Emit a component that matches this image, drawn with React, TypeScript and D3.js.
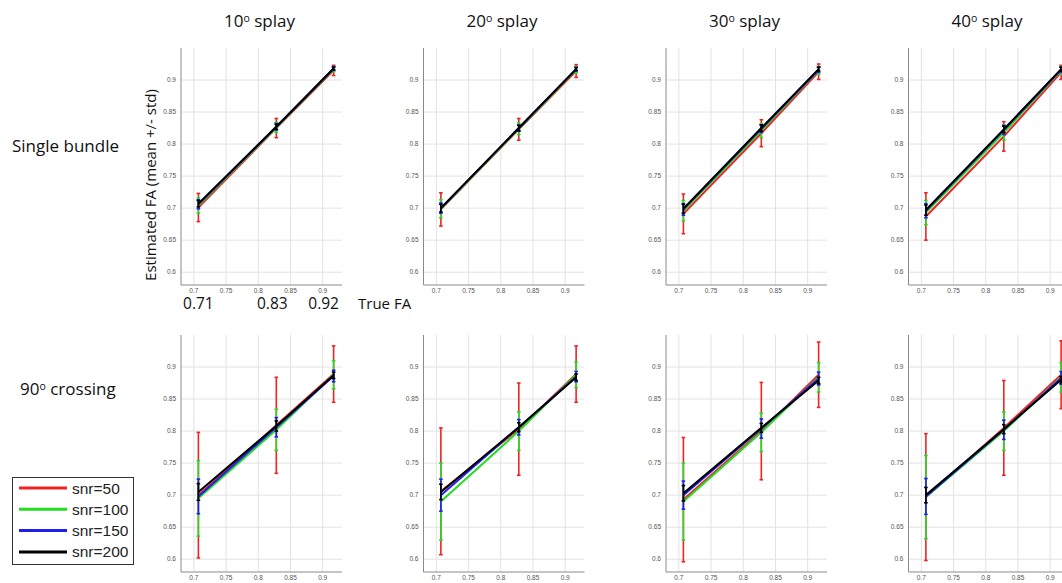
import React from "react";
import * as d3 from "d3";

// True fractional anisotropy of the simulated fibre bundles
const trueFA = [0.707, 0.828, 0.917];
const trueFALabels = ["0.71", "0.83", "0.92"];
const splayAngles = ["10", "20", "30", "40"];
const snrLabels = ["snr=50", "snr=100", "snr=150", "snr=200"];
const snrColors = ["#ee2424", "#24dc24", "#2020ee", "#000000"];
const xTicks = [0.7, 0.75, 0.8, 0.85, 0.9];
const yTicks = [0.6, 0.65, 0.7, 0.75, 0.8, 0.85, 0.9];

// [splay][snr][trueFA]
const singleMean = [
  [[0.701, 0.825, 0.915], [0.704, 0.826, 0.917], [0.706, 0.827, 0.918], [0.707, 0.827, 0.918]],
  [[0.698, 0.823, 0.914], [0.699, 0.824, 0.916], [0.700, 0.825, 0.917], [0.700, 0.825, 0.917]],
  [[0.691, 0.817, 0.913], [0.696, 0.821, 0.915], [0.698, 0.824, 0.916], [0.699, 0.825, 0.917]],
  [[0.687, 0.812, 0.912], [0.693, 0.818, 0.915], [0.696, 0.822, 0.916], [0.697, 0.823, 0.917]],
];
const singleStd = [
  [[0.022, 0.015, 0.008], [0.012, 0.008, 0.004], [0.007, 0.005, 0.003], [0.005, 0.004, 0.002]],
  [[0.026, 0.017, 0.010], [0.014, 0.009, 0.005], [0.008, 0.005, 0.003], [0.006, 0.004, 0.002]],
  [[0.031, 0.021, 0.012], [0.016, 0.011, 0.006], [0.009, 0.006, 0.004], [0.007, 0.005, 0.003]],
  [[0.037, 0.023, 0.011], [0.019, 0.012, 0.006], [0.011, 0.007, 0.004], [0.008, 0.005, 0.003]],
];
const crossMean = [
  [[0.700, 0.809, 0.889], [0.695, 0.802, 0.888], [0.698, 0.806, 0.886], [0.705, 0.808, 0.887]],
  [[0.706, 0.803, 0.889], [0.690, 0.800, 0.888], [0.700, 0.806, 0.885], [0.705, 0.806, 0.884]],
  [[0.693, 0.800, 0.888], [0.690, 0.798, 0.884], [0.700, 0.804, 0.882], [0.703, 0.805, 0.879]],
  [[0.697, 0.805, 0.888], [0.697, 0.800, 0.884], [0.698, 0.802, 0.883], [0.700, 0.803, 0.880]],
];
const crossStd = [
  [[0.098, 0.075, 0.044], [0.059, 0.032, 0.022], [0.027, 0.015, 0.009], [0.013, 0.008, 0.005]],
  [[0.099, 0.072, 0.044], [0.060, 0.030, 0.020], [0.025, 0.012, 0.008], [0.012, 0.007, 0.005]],
  [[0.097, 0.076, 0.051], [0.060, 0.030, 0.023], [0.022, 0.015, 0.010], [0.012, 0.007, 0.005]],
  [[0.099, 0.074, 0.053], [0.065, 0.030, 0.023], [0.028, 0.015, 0.010], [0.012, 0.007, 0.005]],
];

const W = 1062;
const H = 583;
const panelX0 = 181;
const colStep = 242.5;
const rowTops = [48, 335];
const panelW = 161;
const panelH = 237;

const x = d3.scaleLinear().domain([0.68, 0.93]).range([0, panelW]);
const y = d3.scaleLinear().domain([0.58, 0.95]).range([panelH, 0]);
const fmt = d3.format("~g");
const line = d3
  .line<[number, number]>()
  .x((d) => x(d[0]))
  .y((d) => y(d[1]));

const labelFont = "'Open Sans', 'Noto Sans', sans-serif";
const tickFont = "'Liberation Sans', Arial, sans-serif";

function Panel({ means, stds, left, top }: { means: number[][]; stds: number[][]; left: number; top: number }) {
  return (
    <g transform={`translate(${left},${top})`}>
      {xTicks.map((t) => (
        <line key={"gx" + t} x1={x(t)} x2={x(t)} y1={0} y2={panelH} stroke="#e3e3e3" strokeWidth={1} />
      ))}
      {yTicks.map((t) => (
        <line key={"gy" + t} x1={0} x2={panelW} y1={y(t)} y2={y(t)} stroke="#e3e3e3" strokeWidth={1} />
      ))}
      <line x1={0} x2={0} y1={0} y2={panelH} stroke="#8a8a8a" strokeWidth={1} />
      <line x1={0} x2={panelW} y1={panelH} y2={panelH} stroke="#8a8a8a" strokeWidth={1} />
      {xTicks.map((t) => (
        <text key={"tx" + t} x={x(t)} y={panelH + 7.5} fontSize={6.5} fill="#555" textAnchor="middle" fontFamily={tickFont}>
          {fmt(t)}
        </text>
      ))}
      {yTicks.map((t) => (
        <text key={"ty" + t} x={-5} y={y(t) + 2.2} fontSize={6.5} fill="#555" textAnchor="end" fontFamily={tickFont}>
          {fmt(t)}
        </text>
      ))}
      {means.map((m, s) => {
        const pts = trueFA.map((fa, i) => [fa, m[i]] as [number, number]);
        return (
          <g key={"s" + s}>
            <path d={line(pts) || ""} fill="none" stroke={snrColors[s]} strokeWidth={2} />
            {trueFA.map((fa, i) => {
              const cx = x(fa);
              const y1 = y(m[i] + stds[s][i]);
              const y2 = y(m[i] - stds[s][i]);
              return (
                <g key={"e" + i} stroke={snrColors[s]} strokeWidth={1.6}>
                  <line x1={cx} x2={cx} y1={y1} y2={y2} />
                  <line x1={cx - 1.8} x2={cx + 1.8} y1={y1} y2={y1} />
                  <line x1={cx - 1.8} x2={cx + 1.8} y1={y2} y2={y2} />
                </g>
              );
            })}
          </g>
        );
      })}
    </g>
  );
}

function Degree({ value, rest }: { value: string; rest: string }) {
  return (
    <>
      {value}
      <tspan fontSize="0.62em" dy="-0.45em">o</tspan>
      <tspan dy="0.28em">{rest}</tspan>
    </>
  );
}

export default function App() {
  const rows = [
    { means: singleMean, stds: singleStd },
    { means: crossMean, stds: crossStd },
  ];
  const faLabelShift = [0, -4, -10];
  return (
    <svg width={W} height={H} style={{ position: "absolute", left: 0, top: 0, background: "#fff" }}>
      <rect width={W} height={H} fill="#fff" />
      {splayAngles.map((a, c) => (
        <text
          key={"t" + a}
          x={panelX0 + c * colStep + panelW / 2 - 2}
          y={27}
          fontSize={17}
          textAnchor="middle"
          fontFamily={labelFont}
          fill="#111"
        >
          <Degree value={a} rest=" splay" />
        </text>
      ))}
      <text x={12} y={152} fontSize={17} fontFamily={labelFont} fill="#111">
        Single bundle
      </text>
      <text x={20} y={395} fontSize={17} fontFamily={labelFont} fill="#111">
        <Degree value="90" rest=" crossing" />
      </text>
      <text
        transform={`translate(156,185) rotate(-90)`}
        textAnchor="middle"
        fontSize={15}
        fontFamily={labelFont}
        fill="#111"
      >
        Estimated FA (mean +/- std)
      </text>
      {rows.map((r, ri) =>
        splayAngles.map((a, c) => (
          <Panel
            key={`p${ri}-${c}`}
            means={r.means[c]}
            stds={r.stds[c]}
            left={panelX0 + c * colStep}
            top={rowTops[ri]}
          />
        ))
      )}
      {trueFA.map((fa, i) => (
        <text
          key={"fa" + i}
          x={panelX0 + x(fa) + faLabelShift[i]}
          y={309}
          fontSize={15.5}
          textAnchor="middle"
          fontFamily={labelFont}
          fill="#111"
        >
          {trueFALabels[i]}
        </text>
      ))}
      <text x={358} y={309} fontSize={15} fontFamily={labelFont} fill="#111">
        True FA
      </text>
      <g>
        <rect x={12.5} y={477.5} width={121} height={87} fill="#fff" stroke="#333" strokeWidth={1} />
        {snrLabels.map((l, i) => (
          <g key={l} transform={`translate(0,${488 + i * 21.3})`}>
            <line x1={19} x2={67} y1={0} y2={0} stroke={snrColors[i]} strokeWidth={3} />
            <text x={72} y={5.5} fontSize={15.5} fontFamily={tickFont} fill="#222">
              {l}
            </text>
          </g>
        ))}
      </g>
    </svg>
  );
}
